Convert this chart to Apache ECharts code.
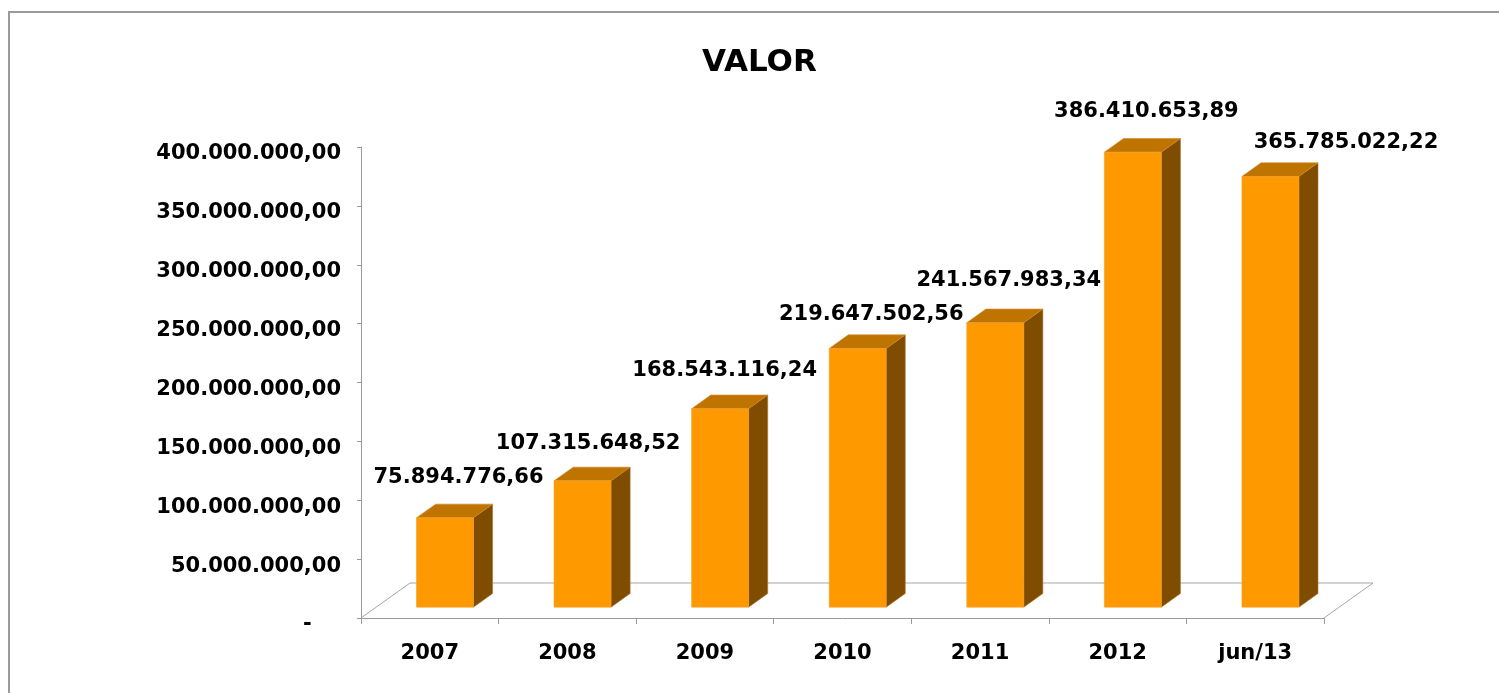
<!DOCTYPE html>
<html>
<head>
<meta charset="utf-8">
<script src="https://cdn.jsdelivr.net/npm/echarts@6/dist/echarts.min.js"></script>
<style>
html,body{margin:0;padding:0;background:#fff;}
#c{width:1499px;height:693px;}
</style>
</head>
<body>
<div id="c"></div>
<script>
var categories = ['2007', '2008', '2009', '2010', '2011', '2012', 'jun/13'];
var values = [75894776.66, 107315648.52, 168543116.24, 219647502.56, 241567983.34, 386410653.89, 365785022.22];
var yMin = 0, yMax = 400000000, yStep = 50000000;

// label nudges (style only), as placed in the original
var labelShiftX = [0, -8, -9, 0, 0, 0, 62];
var labelShiftY = [0, 3, 3, 7, -2, 0, 7];

var FONT = '"DejaVu Sans", sans-serif';
var FLOOR = [49, -35];          // floor depth vector (px)
var FRONT_F = 0.31;             // bar front plane position in depth
var DEPTH_F = 0.39;             // bar depth
var BAR_W_F = 0.414;            // bar width fraction of category

function fmtBR(v) {
  if (v === 0) return '-';
  var s = v.toFixed(2);
  var p = s.split('.');
  var i = p[0].replace(/\B(?=(\d{3})+(?!\d))/g, '.');
  return i + ',' + p[1];
}

var chart = echarts.init(document.getElementById('c'), null, {renderer: 'canvas'});

var option = {
  backgroundColor: '#ffffff',
  animation: false,
  title: {
    text: 'VALOR',
    left: 697,
    top: 42,
    textStyle: {fontFamily: FONT, fontWeight: 'bold', fontSize: 31, color: '#000'}
  },
  graphic: [{
    type: 'rect',
    shape: {x: 9, y: 12, width: 1530, height: 730},
    style: {fill: 'none', stroke: '#9a9a9a', lineWidth: 2},
    silent: true
  }],
  grid: {left: 361, right: 175, top: 147, bottom: 75, containLabel: false},
  xAxis: {
    type: 'category',
    data: categories,
    boundaryGap: true,
    axisLine: {show: true, lineStyle: {color: '#9a9a9a', width: 1}},
    axisTick: {show: true, length: 6, interval: 0, lineStyle: {color: '#9a9a9a'}},
    axisLabel: {
      interval: 0, margin: 25,
      fontFamily: FONT, fontWeight: 'bold', fontSize: 21, color: '#000'
    },
    splitLine: {show: false}
  },
  yAxis: {
    type: 'value',
    min: yMin, max: yMax, interval: yStep,
    axisLine: {show: true, lineStyle: {color: '#9a9a9a', width: 1}},
    axisTick: {show: true, length: 4, inside: false, lineStyle: {color: '#9a9a9a'}},
    axisLabel: {
      margin: 20,
      fontFamily: FONT, fontWeight: 'bold', fontSize: 21, color: '#000',
      verticalAlign: 'top',
      lineHeight: 14,
      formatter: function (v) { return v === 0 ? '-\u00a0\u00a0\u00a0\u00a0' : fmtBR(v); }
    },
    splitLine: {show: false}
  },
  series: [
    {
      type: 'custom',
      name: 'floor',
      z: 1,
      silent: true,
      data: [[0, 0]],
      renderItem: function (params, api) {
        var cs = params.coordSys;
        var x0 = cs.x, x1 = cs.x + cs.width, y0 = cs.y + cs.height;
        return {
          type: 'polyline',
          shape: {points: [[x0, y0], [x0 + FLOOR[0], y0 + FLOOR[1]], [x1 + FLOOR[0], y0 + FLOOR[1]], [x1, y0]]},
          style: {stroke: '#a6a6a6', lineWidth: 1, fill: null}
        };
      }
    },
    {
      type: 'custom',
      name: 'VALOR',
      z: 3,
      data: values.map(function (v, i) { return [i, v]; }),
      encode: {x: 0, y: 1},
      renderItem: function (params, api) {
        var idx = api.value(0);
        var top = api.coord([idx, api.value(1)]);
        var base = api.coord([idx, 0]);
        var catW = api.size([1, 0])[0];
        var w = catW * BAR_W_F;
        var fx = FLOOR[0] * FRONT_F, fy = FLOOR[1] * FRONT_F;
        var dx = FLOOR[0] * DEPTH_F, dy = FLOOR[1] * DEPTH_F;
        var xl = top[0] + fx - w / 2, xr = xl + w;
        var yt = top[1] + fy, yb = base[1] + fy;
        var i = params.dataIndex;
        return {
          type: 'group',
          children: [
            {
              type: 'polygon',
              shape: {points: [[xr, yt], [xr + dx, yt + dy], [xr + dx, yb + dy], [xr, yb]]},
              style: {fill: '#7f4c00', stroke: '#a8762e', lineWidth: 0.6}
            },
            {
              type: 'polygon',
              shape: {points: [[xl, yt], [xr, yt], [xr + dx, yt + dy], [xl + dx, yt + dy]]},
              style: {fill: '#c07400', stroke: '#d08a2a', lineWidth: 0.6}
            },
            {
              type: 'rect',
              shape: {x: xl, y: yt, width: w, height: yb - yt},
              style: {fill: '#ff9900', stroke: '#f0a030', lineWidth: 0.6}
            },
            {
              type: 'text',
              style: {
                text: fmtBR(api.value(1)),
                x: (xl + xr) / 2 + dx / 2 + 4 + labelShiftX[i],
                y: yt + dy - 27 + labelShiftY[i],
                align: 'center',
                verticalAlign: 'middle',
                fontFamily: FONT, fontWeight: 'bold', fontSize: 21, fill: '#000'
              }
            }
          ]
        };
      }
    }
  ]
};
chart.setOption(option);
</script>
</body>
</html>
